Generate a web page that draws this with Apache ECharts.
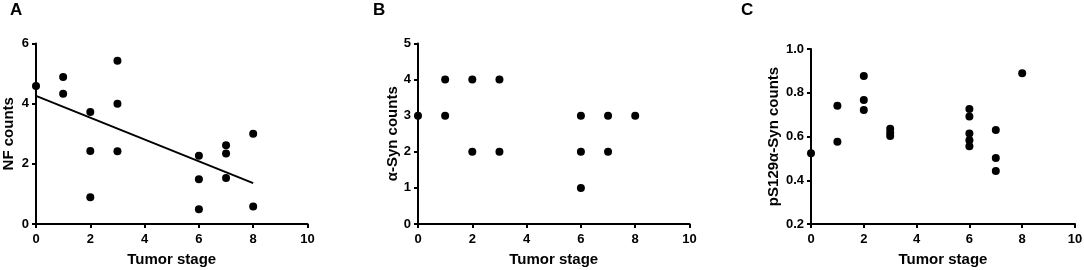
<!DOCTYPE html>
<html>
<head>
<meta charset="utf-8">
<script src="https://cdn.jsdelivr.net/npm/echarts@6/dist/echarts.min.js"></script>
<style>
  html, body { margin: 0; padding: 0; background: #fff; }
  #chart { width: 1084px; height: 270px; }
</style>
</head>
<body>
<div id="chart"></div>
<script>
// panel A: NF counts
const nfStage = [0, 1, 1, 2, 2, 2, 3, 3, 3, 6, 6, 6, 7, 7, 7, 8, 8]
const nfCounts = [4.59, 4.89, 4.33, 3.72, 2.43, 0.89, 5.43, 4.0, 2.42, 2.27, 1.49, 0.49, 2.62, 2.34, 1.53, 3.0, 0.58]
// fitted line
const fitStage = [0, 8]
const fitCounts = [4.26, 1.36]

// panel B: a-Syn counts
const synStage = [0, 1, 1, 2, 2, 3, 3, 6, 6, 6, 7, 7, 8]
const synCounts = [3, 4, 3, 4, 2, 4, 2, 3, 2, 1, 3, 2, 3]

// panel C: pS129 a-Syn counts
const pStage = [0, 1, 1, 2, 2, 2, 3, 3, 3, 6, 6, 6, 6, 6, 7, 7, 7, 8]
const pCounts = [0.524, 0.741, 0.576, 0.877, 0.767, 0.721, 0.636, 0.617, 0.602, 0.726, 0.692, 0.614, 0.583, 0.556, 0.630, 0.502, 0.442, 0.889]

const zip = (a, b) => a.map((v, i) => [v, b[i]])

const font = 'Liberation Sans, Arial, sans-serif'
const axisLine = { lineStyle: { color: '#000', width: 2 } }
const axisTick = { show: true, length: 4, lineStyle: { color: '#000', width: 2 } }
const axisLabel = { color: '#000', fontWeight: 'bold', fontSize: 13, fontFamily: font }
const nameStyle = { color: '#000', fontWeight: 'bold', fontSize: 15, fontFamily: font }

const xAxis = (idx) => ({
  type: 'value', gridIndex: idx, min: 0, max: 10, interval: 2,
  name: 'Tumor stage', nameLocation: 'middle', nameGap: 28, nameTextStyle: nameStyle,
  axisLine, axisTick, axisLabel: { ...axisLabel, margin: 9 }, splitLine: { show: false }
})
const yAxis = (idx, name, min, max, interval, gap, fmt) => ({
  type: 'value', gridIndex: idx, min, max, interval,
  name, nameLocation: 'middle', nameGap: gap, nameRotate: 90, nameTextStyle: nameStyle,
  axisLine: { show: true, ...axisLine }, axisTick, splitLine: { show: false },
  axisLabel: { ...axisLabel, margin: 7, formatter: fmt }
})

const dots = (x, y, xi) => ({
  type: 'scatter', xAxisIndex: xi, yAxisIndex: xi, data: zip(x, y),
  symbolSize: 8, itemStyle: { color: '#000', opacity: 1 }, silent: true
})

var chart = echarts.init(document.getElementById('chart'))
chart.setOption({
  animation: false,
  graphic: [
    { type: 'text', left: 10, top: 2, style: { text: 'A', font: 'bold 17px ' + font, fill: '#000' } },
    { type: 'text', left: 373, top: 2, style: { text: 'B', font: 'bold 17px ' + font, fill: '#000' } },
    { type: 'text', left: 741, top: 2, style: { text: 'C', font: 'bold 17px ' + font, fill: '#000' } }
  ],
  grid: [
    { left: 36, top: 43.5, width: 271.5, height: 180.5, outerBoundsMode: 'none' },
    { left: 418, top: 43.5, width: 271.5, height: 180.5, outerBoundsMode: 'none' },
    { left: 811, top: 49, width: 264, height: 175, outerBoundsMode: 'none' }
  ],
  xAxis: [xAxis(0), xAxis(1), xAxis(2)],
  yAxis: [
    yAxis(0, 'NF counts', 0, 6, 2, 20),
    yAxis(1, 'α-Syn counts', 0, 5, 1, 18),
    yAxis(2, 'pS129α-Syn counts', 0.2, 1.0, 0.2, 30, (v) => v.toFixed(1))
  ],
  series: [
    dots(nfStage, nfCounts, 0),
    {
      type: 'line', xAxisIndex: 0, yAxisIndex: 0, data: zip(fitStage, fitCounts),
      symbol: 'none', lineStyle: { color: '#000', width: 2 }, silent: true
    },
    dots(synStage, synCounts, 1),
    dots(pStage, pCounts, 2)
  ]
})
</script>
</body>
</html>
